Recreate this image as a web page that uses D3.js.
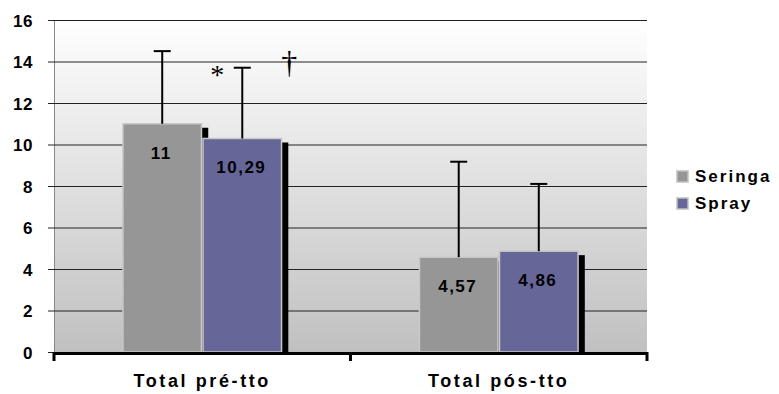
<!DOCTYPE html>
<html>
<head>
<meta charset="utf-8">
<script src="https://cdn.jsdelivr.net/npm/d3@7/dist/d3.min.js"></script>
<style>
  html, body { margin: 0; padding: 0; background: #fff; }
  svg { display: block; }
  text { font-family: "Liberation Sans", Arial, sans-serif; font-weight: bold; fill: #000; }
</style>
</head>
<body>
<svg id="chart" width="779" height="394"></svg>
<script>
// ---- data ----
const categories = ["Total pré-tto", "Total pós-tto"];
const seriesNames = ["Seringa", "Spray"];
const seringaValues = [11, 4.57];
const sprayValues = [10.29, 4.86];
const seringaSD = [3.5, 4.6];
const spraySD = [3.41, 3.24];
const valueLabels = [["11", "10,29"], ["4,57", "4,86"]];
const yTicks = [0, 2, 4, 6, 8, 10, 12, 14, 16];
const seriesColors = ["#969696", "#666699"];

// ---- layout ----
const svg = d3.select("#chart");
const pLeft = 54, pRight = 647, pTop = 20, pBottom = 352;

const y = d3.scaleLinear().domain([0, 16]).range([pBottom, pTop]);
const x0 = d3.scaleBand().domain(categories).range([pLeft, pRight]).padding(0);
const x1 = d3.scaleBand().domain(seriesNames)
  .range([x0.bandwidth() * 0.23, x0.bandwidth() * 0.77]).padding(0);
const color = d3.scaleOrdinal().domain(seriesNames).range(seriesColors);

const data = [];
categories.forEach((c, i) => {
  data.push({cat: c, s: "Seringa", v: seringaValues[i], sd: seringaSD[i], label: valueLabels[i][0]});
  data.push({cat: c, s: "Spray", v: sprayValues[i], sd: spraySD[i], label: valueLabels[i][1]});
});

// background gradient
const defs = svg.append("defs");
const grad = defs.append("linearGradient").attr("id", "bg")
  .attr("x1", 0).attr("y1", 0).attr("x2", 0).attr("y2", 1);
grad.append("stop").attr("offset", "0%").attr("stop-color", "#ffffff");
grad.append("stop").attr("offset", "100%").attr("stop-color", "#c0c0c0");

svg.append("rect").attr("x", pLeft).attr("y", pTop)
  .attr("width", pRight - pLeft).attr("height", pBottom - pTop)
  .attr("fill", "url(#bg)");

// left axis line
svg.append("line").attr("x1", pLeft + 0.5).attr("x2", pLeft + 0.5)
  .attr("y1", pTop).attr("y2", pBottom).attr("stroke", "#888").attr("stroke-width", 1);

// y axis with gridlines
const yAxis = d3.axisLeft(y).tickValues(yTicks).tickSize(-(pRight - pLeft)).tickPadding(0).tickFormat(d3.format("d"));
const gy = svg.append("g").attr("transform", `translate(${pLeft},0)`).call(yAxis);
gy.select(".domain").remove();
gy.selectAll(".tick line").attr("x1", -6).attr("stroke", "#222").attr("stroke-width", 1);
gy.selectAll(".tick text")
  .attr("x", -21).attr("dy", "0.36em")
  .attr("font-size", 17).attr("font-family", "Liberation Sans, Arial, sans-serif")
  .attr("font-weight", "bold").attr("fill", "#000").attr("letter-spacing", 0.5);

// shadows
const shDx = 6, shDy = 4;
svg.append("g").selectAll("rect").data(data).join("rect")
  .attr("x", d => x0(d.cat) + x1(d.s) + shDx)
  .attr("y", d => y(d.v) + shDy)
  .attr("width", x1.bandwidth())
  .attr("height", d => pBottom - y(d.v) - shDy)
  .attr("fill", "#000");

// bars
svg.append("g").selectAll("rect").data(data).join("rect")
  .attr("x", d => x0(d.cat) + x1(d.s) + 0.75)
  .attr("y", d => y(d.v))
  .attr("width", x1.bandwidth() - 1.5)
  .attr("height", d => pBottom - y(d.v))
  .attr("fill", d => color(d.s))
  .attr("stroke", "#c8c8c8").attr("stroke-width", 1.5);

// error bars (positive only)
const eb = svg.append("g").attr("stroke", "#000").attr("stroke-width", 2);
data.forEach(d => {
  const cx = x0(d.cat) + x1(d.s) + x1.bandwidth() / 2;
  eb.append("line").attr("x1", cx).attr("x2", cx).attr("y1", y(d.v)).attr("y2", y(d.v + d.sd));
  eb.append("line").attr("x1", cx - 8.5).attr("x2", cx + 8.5).attr("y1", y(d.v + d.sd)).attr("y2", y(d.v + d.sd));
});

// value labels
svg.append("g").selectAll("text").data(data).join("text")
  .attr("x", d => x0(d.cat) + x1(d.s) + x1.bandwidth() / 2 - 1)
  .attr("y", d => y(d.v) + 35)
  .attr("text-anchor", "middle")
  .attr("font-size", 17).attr("letter-spacing", 1.5)
  .text(d => d.label);

// x axis
svg.append("line").attr("x1", pLeft - 1).attr("x2", pRight + 1)
  .attr("y1", pBottom + 1.5).attr("y2", pBottom + 1.5)
  .attr("stroke", "#000").attr("stroke-width", 3);
const xTickPos = [pLeft, pLeft + x0.bandwidth(), pRight];
svg.append("g").selectAll("line").data(xTickPos).join("line")
  .attr("x1", d => d).attr("x2", d => d)
  .attr("y1", pBottom).attr("y2", pBottom + 9)
  .attr("stroke", "#000").attr("stroke-width", 3);

svg.append("g").selectAll("text").data(categories).join("text")
  .attr("x", d => x0(d) + x0.bandwidth() / 2)
  .attr("y", 387)
  .attr("text-anchor", "middle")
  .attr("font-size", 18).attr("letter-spacing", 2.6)
  .text(d => d);

// significance markers
const spX = x0(categories[0]) + x1("Spray") + x1.bandwidth() / 2;
svg.append("text").attr("x", spX - 25).attr("y", 84)
  .attr("text-anchor", "middle")
  .style("font-family", "'Liberation Serif', 'Times New Roman', serif").style("font-weight", "normal")
  .style("fill", "#000")
  .attr("font-size", 28).text("*");
svg.append("text").attr("x", spX + 47).attr("y", 73)
  .attr("text-anchor", "middle")
  .style("font-family", "'Liberation Serif', 'Times New Roman', serif").style("font-weight", "normal")
  .style("fill", "#000")
  .attr("font-size", 32).text("†");

// legend
const lg = svg.append("g");
seriesNames.forEach((s, i) => {
  const ly = 171 + i * 27;
  lg.append("rect").attr("x", 677).attr("y", ly).attr("width", 11).attr("height", 11)
    .attr("fill", color(s)).attr("stroke", "#c0c0c0").attr("stroke-width", 1.5);
  lg.append("text").attr("x", 695).attr("y", ly + 11)
    .attr("font-size", 17).attr("letter-spacing", 2)
    .text(s);
});
</script>
</body>
</html>
